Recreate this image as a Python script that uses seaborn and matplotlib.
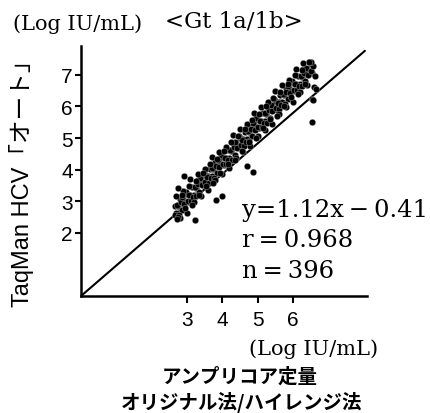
import matplotlib
matplotlib.use("Agg")
import matplotlib.pyplot as plt
import seaborn as sns
import pandas as pd

# ---- data ----
xa = [2.65, 2.70, 2.75, 2.80, 2.85, 2.90, 2.95, 3.00, 3.05, 3.10,
      3.15, 3.20, 3.25, 3.30, 3.35, 3.40, 3.45, 3.50, 3.55, 3.60,
      3.65, 3.70, 3.75, 3.80, 3.85, 3.90, 3.95, 4.00, 4.05, 4.10,
      4.15, 4.20, 4.25, 4.30, 4.35, 4.40, 4.45, 4.50, 4.55, 4.60,
      4.65, 4.70, 4.75, 4.80, 4.85, 4.90, 4.95, 5.00, 5.05, 5.10,
      5.15, 5.20, 5.25, 5.30, 5.35, 5.40, 5.45, 5.50, 5.55, 5.60,
      5.65, 5.70, 5.75, 5.80, 5.85, 5.90, 5.95, 6.00, 6.05, 6.10,
      6.15, 6.20, 6.25, 6.30, 6.35, 6.40, 6.45, 6.50, 6.55]
ya = [2.86, 2.62, 2.85, 3.08, 2.71, 3.07, 2.98, 3.24, 2.97, 3.21,
      3.45, 3.20, 3.43, 3.66, 3.30, 3.66, 3.57, 3.83, 3.55, 3.79,
      4.03, 3.79, 4.02, 4.25, 3.88, 4.24, 4.15, 4.41, 4.14, 4.38,
      4.62, 4.37, 4.60, 4.83, 4.47, 4.83, 4.74, 5.00, 4.72, 4.96,
      5.20, 4.96, 5.19, 5.42, 5.05, 5.41, 5.32, 5.58, 5.31, 5.55,
      5.79, 5.54, 5.77, 6.00, 5.64, 6.00, 5.91, 6.17, 5.89, 6.13,
      6.37, 6.13, 6.36, 6.59, 6.22, 6.58, 6.49, 6.75, 6.48, 6.72,
      6.96, 6.71, 6.94, 7.17, 6.81, 7.17, 7.08, 7.34, 7.06]
xb = [2.67, 2.72, 2.77, 2.82, 2.87, 2.92, 2.97, 3.02, 3.07, 3.12,
      3.17, 3.22, 3.27, 3.32, 3.37, 3.42, 3.47, 3.52, 3.57, 3.62,
      3.67, 3.72, 3.77, 3.82, 3.87, 3.92, 3.97, 4.02, 4.07, 4.12,
      4.17, 4.22, 4.27, 4.32, 4.37, 4.42, 4.47, 4.52, 4.57, 4.62,
      4.67, 4.72, 4.77, 4.82, 4.87, 4.92, 4.97, 5.02, 5.07, 5.12,
      5.17, 5.22, 5.27, 5.32, 5.37, 5.42, 5.47, 5.52, 5.57, 5.62,
      5.67, 5.72, 5.77, 5.82, 5.87, 5.92, 5.97, 6.02, 6.07, 6.12,
      6.17, 6.22, 6.27, 6.32, 6.37, 6.42, 6.47, 6.52, 6.57]
yb = [2.55, 2.88, 2.57, 2.96, 3.13, 2.91, 3.30, 3.01, 3.20, 3.01,
      3.14, 3.46, 3.15, 3.54, 3.72, 3.50, 3.89, 3.60, 3.78, 3.59,
      3.72, 4.05, 3.74, 4.13, 4.30, 4.08, 4.47, 4.18, 4.37, 4.18,
      4.31, 4.63, 4.32, 4.71, 4.89, 4.67, 5.06, 4.77, 4.95, 4.76,
      4.89, 5.22, 4.91, 5.30, 5.47, 5.25, 5.64, 5.35, 5.54, 5.35,
      5.48, 5.80, 5.49, 5.88, 6.06, 5.84, 6.23, 5.94, 6.12, 5.93,
      6.06, 6.39, 6.08, 6.47, 6.64, 6.42, 6.81, 6.52, 6.71, 6.52,
      6.65, 6.97, 6.66, 7.05, 7.23, 7.01, 7.40, 7.11, 7.29]
xc = [2.70, 2.80, 2.90, 3.00, 3.10, 3.20, 3.30, 3.40, 3.50, 3.60,
      3.70, 3.80, 3.90, 4.00, 4.10, 4.20, 4.30, 4.40, 4.50, 4.60,
      4.70, 4.80, 4.90, 5.00, 5.10, 5.20, 5.30, 5.40, 5.50, 5.60,
      5.70, 5.80, 5.90, 6.00, 6.10, 6.20, 6.30, 6.40, 6.50]
yc = [3.16, 2.46, 3.32, 2.64, 3.69, 2.96, 3.86, 3.16, 4.03, 3.34,
      4.39, 3.67, 4.56, 3.86, 4.73, 4.04, 5.09, 4.37, 5.27, 4.56,
      5.43, 4.75, 5.79, 5.07, 5.97, 5.26, 6.13, 5.45, 6.50, 5.77,
      6.67, 5.97, 6.83, 6.15, 7.20, 6.47, 7.37, 6.67, 7.40]
xd = [2.75, 2.85, 2.95, 3.05, 3.15, 3.25, 3.35, 3.45, 3.55, 3.65,
      3.75, 3.85, 3.95, 4.05, 4.15, 4.25, 4.35, 4.45, 4.55, 4.65,
      4.75, 4.85, 4.95, 5.05, 5.15, 5.25, 5.35, 5.45, 5.55, 5.65,
      5.75, 5.85, 5.95, 6.05, 6.15, 6.25, 6.35, 6.45]
yd = [2.50, 3.19, 2.78, 3.47, 2.89, 3.64, 3.20, 3.90, 3.48, 4.17,
      3.59, 4.34, 3.90, 4.60, 4.19, 4.87, 4.29, 5.05, 4.60, 5.30,
      4.89, 5.57, 4.99, 5.75, 5.31, 6.00, 5.59, 6.28, 5.69, 6.45,
      6.01, 6.70, 6.29, 6.98, 6.40, 7.15, 6.71, 7.41]
x_out = [6.54, 2.92, 2.75, 3.82, 3.99, 3.23, 2.72, 4.70, 4.87, 6.55,
         6.60, 6.62, 6.65, 6.58]
y_out = [5.51, 3.81, 3.43, 3.05, 3.17, 2.41, 2.44, 4.12, 3.93, 6.25,
         6.60, 6.95, 6.55, 6.20]

line_x = [0.0, 8.04]
line_y = [0.0, 7.76]

x_ticks = [3, 4, 5, 6]
y_ticks = [2, 3, 4, 5, 6, 7]

title_text = "<Gt 1a/1b>"
unit_text = "(Log IU/mL)"
y_label = "TaqMan HCV「オート」"
x_label1 = "アンプリコア定量"
x_label2 = "オリジナル法/ハイレンジ法"
stats = ["y=1.12x\u2009\u2212\u20090.41", "r\u2009=\u20090.968", "n\u2009=\u2009396"]

df = pd.DataFrame({
    "x": xa + xb + xc + xd + x_out,
    "y": ya + yb + yc + yd + y_out,
})

# ---- figure ----
sns.set_style("ticks")
plt.rcParams['font.family'] = ['Liberation Sans', 'Noto Sans CJK JP', 'DejaVu Sans']
plt.rcParams['text.color'] = 'black'

W, H = 431, 414
fig = plt.figure(figsize=(W / 100, H / 100), dpi=100)
fig.patch.set_facecolor("white")
ax = fig.add_axes([81 / W, 1 - 297 / H, 286 / W, 249.6 / H])

sns.lineplot(x=line_x, y=line_y, ax=ax, color="black", linewidth=1.5, zorder=1)
sns.scatterplot(data=df, x="x", y="y", ax=ax, color="black", s=22,
                edgecolor="white", linewidth=0.2, zorder=3, legend=False)

ax.set_xlim(0, 8.1)
ax.set_ylim(0, 7.9)
ax.set_xticks(x_ticks)
ax.set_yticks(y_ticks)
ax.set_xticklabels([str(t) for t in x_ticks], fontsize=15)
ax.set_yticklabels([str(t) for t in y_ticks], fontsize=15)
ax.tick_params(axis="x", direction="out", length=5, width=1.5, color="black",
               labelcolor="black", pad=5)
ax.tick_params(axis="y", direction="out", length=4, width=1.5, color="black",
               labelcolor="black", pad=2)
ax.set_xlabel("")
ax.set_ylabel("")
ax.set_facecolor("white")
sns.despine(ax=ax)
for s in ["left", "bottom"]:
    ax.spines[s].set_linewidth(1.8)
    ax.spines[s].set_color("black")

def fx(px):
    return px / W

def fy(py):
    return 1 - py / H

serif = ["DejaVu Serif"]
fig.text(fx(78), fy(24), unit_text, family=serif, fontsize=15, ha="center", va="center")
fig.text(fx(234), fy(22), title_text, family=serif, fontsize=16.5, ha="center", va="center")
fig.text(fx(314), fy(349), unit_text, family=serif, fontsize=15, ha="center", va="center")
fig.text(fx(240), fy(377), x_label1, family=["Noto Sans CJK JP"], fontsize=14,
         fontweight="bold", ha="center", va="center")
fig.text(fx(242), fy(403), x_label2, family=["Noto Sans CJK JP"], fontsize=14,
         fontweight="bold", ha="center", va="center")
fig.text(fx(22), fy(178), y_label, family=["Liberation Sans", "Noto Sans CJK JP"],
         fontsize=17, rotation=90, ha="center", va="center")
for i, s in enumerate(stats):
    fig.text(fx(242), fy(211 + 30 * i), s, family=serif, fontsize=17.5,
             ha="left", va="center")

fig.savefig("out.png", dpi=100, facecolor="white")
